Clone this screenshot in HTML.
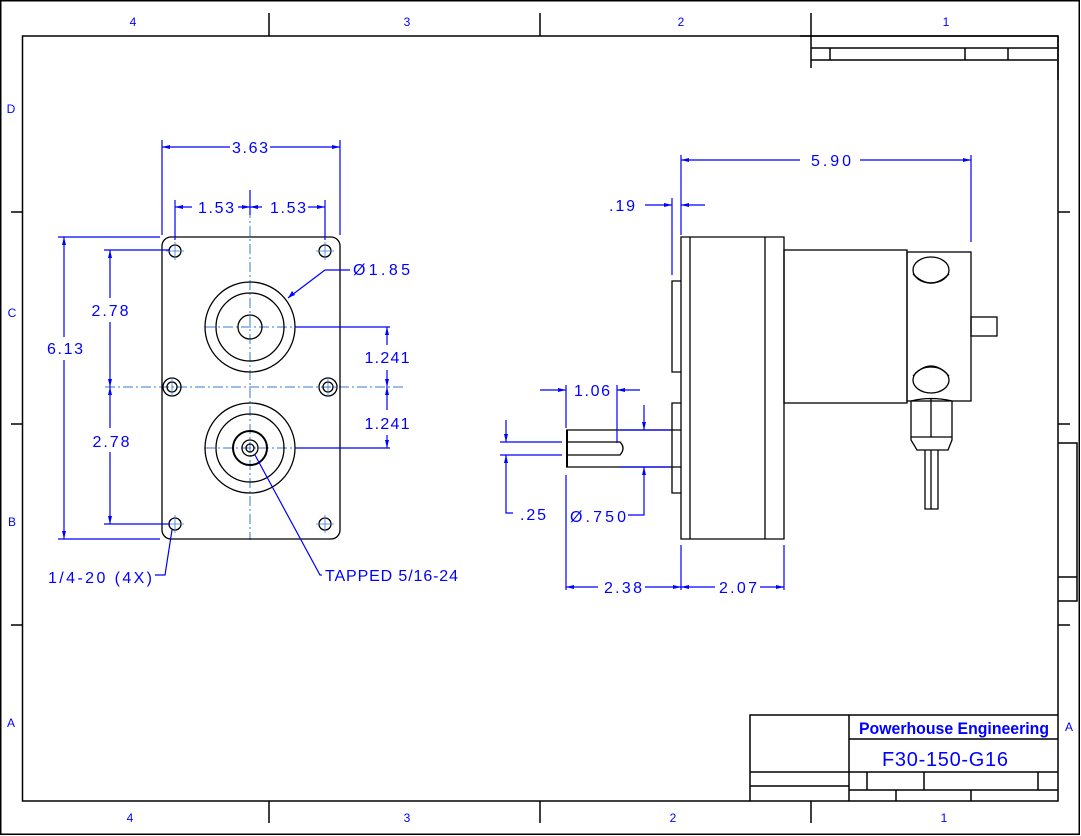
<!DOCTYPE html>
<html><head><meta charset="utf-8"><style>html,body{margin:0;padding:0;background:#fff}svg{display:block}</style></head><body>
<svg width="1081" height="836" viewBox="0 0 1081 836" xmlns="http://www.w3.org/2000/svg" font-family="Liberation Sans, sans-serif">
<g fill="none" stroke="#000" stroke-width="1.5">
<rect x="0.75" y="0.75" width="1078.5" height="833.5"/>
<rect x="22.5" y="36" width="1035.5" height="765"/>
<path d="M269 13V36M540 13V36M811 13V68M269 801V823M540 801V823M811 801V823M11 212H22M11 424H22M11 625H22M1058 212H1070M1058 424H1070M1058 625H1070"/>
<path d="M800 36H1058M811 48H1058M811 60H1057M830 48V60M965 48V60M1008 48V60M1058 36V80"/>
<path d="M1058 443H1077V601H1058M1058 577H1077"/>
<path d="M750 801V715H1058M849 715V801M849 739H1058M750 772H1058M750 786H849M849 790H1058M867 772V790M924 772V790M1038 772V790M896 790V801M971 790V801"/>
</g>
<g fill="#0000ff" font-size="12" text-anchor="middle">
<text x="133" y="26">4</text><text x="407" y="26">3</text><text x="681" y="26">2</text><text x="946" y="26">1</text>
<text x="130" y="822">4</text><text x="407" y="822">3</text><text x="673" y="822">2</text><text x="944" y="822">1</text>
<text x="11" y="113">D</text><text x="12" y="317">C</text><text x="12" y="526">B</text><text x="11" y="727">A</text>
<text x="1069" y="731">A</text>
</g>
<text x="954" y="734" fill="#0000ff" font-size="17" font-weight="bold" text-anchor="middle" textLength="190" lengthAdjust="spacingAndGlyphs">Powerhouse Engineering</text>
<text x="945" y="766" fill="#0000ff" font-size="20" text-anchor="middle" textLength="126" lengthAdjust="spacing">F30-150-G16</text>

<g stroke="#3a7ad0" stroke-width="1" stroke-dasharray="10 3 2 3" fill="none">
<path d="M250 190V540M105 387H405M205 327H295M205 448H295"/>
</g>
<g fill="none" stroke="#000" stroke-width="1.3">
<rect x="162" y="237" width="178" height="302" rx="9"/>
<circle cx="250" cy="327" r="45"/><circle cx="250" cy="327" r="34"/><circle cx="250" cy="327" r="12"/>
<circle cx="250" cy="448" r="45"/><circle cx="250" cy="448" r="34"/><circle cx="250" cy="448" r="17" stroke-width="2"/><circle cx="250" cy="448" r="8"/><circle cx="250" cy="448" r="4"/>
<circle cx="175" cy="251" r="6"/><circle cx="325" cy="251" r="6"/><circle cx="175" cy="524" r="6"/><circle cx="325" cy="524" r="6"/>
<circle cx="172" cy="387" r="9"/><circle cx="172" cy="387" r="5"/><circle cx="328" cy="387" r="9"/><circle cx="328" cy="387" r="5"/>
</g>
<g stroke="#3a7ad0" stroke-width="0.8"><path d="M175 242V260M166 251H184M325 242V260M316 251H334M175 515V533M166 524H184M325 515V533M316 524H334M172 377V397M328 377V397"/></g>

<g fill="none" stroke="#000" stroke-width="1.3">
<path d="M681 237H784V539H681ZM690 237V539M765 237V539"/>
<path d="M681 281H672V372H681M681 403H672V493H681"/>
<rect x="784" y="250" width="123" height="153"/>
<rect x="907" y="252" width="64" height="149"/>
<rect x="971" y="317" width="26" height="19"/>
<ellipse cx="931" cy="270" rx="18" ry="13"/><path d="M913 274Q931 292 949 274"/>
<ellipse cx="931" cy="380" rx="18" ry="13"/><path d="M913 376Q931 356 949 376"/>
<path d="M911 401V437H952V401Q931 396 911 401M931 398V437M911 437V440L917 450H948L952 440V437M925 450V509H938V450M931 450V509"/>
<path d="M566 430H681M566 467H681M567 442H620Q626 448 620 455H567" />
<path d="M567 430V467" stroke-width="2"/>
</g>

<g stroke="#0000ff" stroke-width="1.2" fill="none">
<path d="M162 140V235M340 140V235M162 147H230M270 147H340"/>
<path d="M175 200V240M325 200V240M250 190V215M175 207H192M238 207H262M308 207H325"/>
<path d="M58 237H160M58 539H160M64 237V337M64 360V539"/>
<path d="M104 250H170M104 524H170M110 250V298M110 322V428M110 452V524"/>
<path d="M295 327H390M295 448H390M387 327V345M387 370V410M387 435V448"/>
<path d="M288 298L325 270H350"/>
<path d="M255 455L320 575H322"/>
<path d="M172 530L165 575H155"/>
<path d="M681 155V235M971 155V242M681 160H800M860 160H971"/>
<path d="M672 198V275M645 205H672M681 205H705"/>
<path d="M566 385V428M617 385V443M540 390H566M617 390H640"/>
<path d="M500 442H562M500 455H562M506 420V442M506 455V513H513"/>
<path d="M620 430H670M620 467H670M644 405V430M644 467V515H628"/>
<path d="M566 475V590M681 545V590M784 545V590M566 587H598M645 587H681M681 587H715M760 587H784"/>
</g>
<g fill="#0000ff">
<path d="M162 147l8-2v4zM340 147l-8-2v4zM175 207l8-2v4zM250 207l-8-2v4zM250 207l8-2v4zM325 207l-8-2v4z"/>
<path d="M64 237l-2 8h4zM64 539l-2-8h4zM110 250l-2 8h4zM110 387l-2-8h4zM110 387l-2 8h4zM110 524l-2-8h4z"/>
<path d="M387 327l-2 8h4zM387 387l-2-8h4zM387 387l-2 8h4zM387 448l-2-8h4z"/>
<path d="M288 298l4-7 3 4z"/>
<path d="M681 160l8-2v4zM971 160l-8-2v4zM672 205l-8-2v4zM681 205l8-2v4zM566 390l-8-2v4zM617 390l8-2v4z"/>
<path d="M506 442l-2-8h4zM506 455l-2 8h4zM644 430l-2-8h4zM644 467l-2 8h4z"/>
<path d="M566 587l8-2v4zM681 587l-8-2v4zM681 587l8-2v4zM784 587l-8-2v4z"/>
</g>
<g fill="#0000ff" font-size="16">
<text x="250" y="153" text-anchor="middle" textLength="36" lengthAdjust="spacing">3.63</text>
<text x="216" y="213" text-anchor="middle" textLength="36" lengthAdjust="spacing">1.53</text>
<text x="288" y="213" text-anchor="middle" textLength="36" lengthAdjust="spacing">1.53</text>
<text x="65" y="354" text-anchor="middle" textLength="36" lengthAdjust="spacing">6.13</text>
<text x="110" y="316" text-anchor="middle" textLength="37" lengthAdjust="spacing">2.78</text>
<text x="111" y="447" text-anchor="middle" textLength="37" lengthAdjust="spacing">2.78</text>
<text x="387" y="363" text-anchor="middle" textLength="45" lengthAdjust="spacing">1.241</text>
<text x="387" y="429" text-anchor="middle" textLength="45" lengthAdjust="spacing">1.241</text>
<text x="353" y="275" textLength="57" lengthAdjust="spacing">Ø1.85</text>
<text x="325" y="581" textLength="133" lengthAdjust="spacing">TAPPED 5/16-24</text>
<text x="48" y="583" textLength="104" lengthAdjust="spacing">1/4-20 (4X)</text>
<text x="831" y="166" text-anchor="middle" textLength="40" lengthAdjust="spacing">5.90</text>
<text x="622" y="211" text-anchor="middle" textLength="26" lengthAdjust="spacing">.19</text>
<text x="592" y="396" text-anchor="middle" textLength="36" lengthAdjust="spacing">1.06</text>
<text x="533" y="520" text-anchor="middle" textLength="26" lengthAdjust="spacing">.25</text>
<text x="598" y="522" text-anchor="middle" textLength="56" lengthAdjust="spacing">Ø.750</text>
<text x="623" y="593" text-anchor="middle" textLength="38" lengthAdjust="spacing">2.38</text>
<text x="738" y="593" text-anchor="middle" textLength="38" lengthAdjust="spacing">2.07</text>
</g>
</svg>
</body></html>
